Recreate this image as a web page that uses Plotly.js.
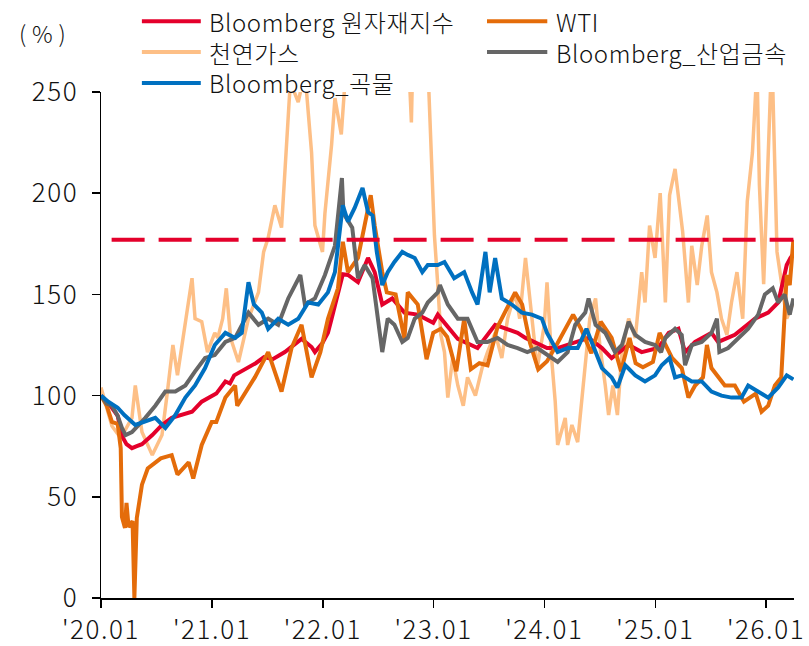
<!DOCTYPE html>
<html>
<head>
<meta charset="utf-8">
<script src="https://cdn.plot.ly/plotly-3.0.1.min.js"></script>
<style>
html,body{margin:0;padding:0;background:#fff;}
#chart{width:809px;height:646px;}
.xtick text,.ytick text{letter-spacing:1.6px;}
.annotation-text{letter-spacing:0.6px;}
</style>
</head>
<body>
<div id="chart"></div>
<script>
// ---- series names ----
const seriesNames = ['Bloomberg 원자재지수', 'WTI', '천연가스', 'Bloomberg_산업금속', 'Bloomberg_곡물'];
const unitLabel = '(\u2009%\u2009)';

// ---- x-axis ticks ----
const tickVals = ['2020-01-01','2021-01-01','2022-01-01','2023-01-01','2024-01-01','2025-01-01','2026-01-01'];
const tickLabels = ["'20.01","'21.01","'22.01","'23.01","'24.01","'25.01","'26.01"];

// ---- Bloomberg 원자재지수 ----
const cmdDates = ['2020-01-01','2020-01-20','2020-02-06','2020-02-25','2020-03-10','2020-03-25','2020-04-12','2020-04-28','2020-05-15','2020-06-18','2020-07-20','2020-08-21','2020-09-24','2020-10-27','2020-11-28','2020-12-31',
'2021-01-15','2021-02-14','2021-03-01','2021-03-15','2021-05-01','2021-05-25','2021-06-21','2021-07-20','2021-08-29','2021-09-20','2021-10-23','2021-11-25','2021-12-06','2021-12-31',
'2022-01-18','2022-01-30','2022-03-08','2022-03-25','2022-04-27','2022-05-30','2022-06-21','2022-07-16','2022-08-18','2022-09-27','2022-11-10','2022-12-31',
'2023-01-15','2023-03-22','2023-05-26','2023-07-23','2023-10-05','2023-10-31',
'2024-01-10','2024-02-14','2024-04-12','2024-05-26','2024-07-09','2024-08-10','2024-10-05','2024-11-17',
'2025-01-10','2025-02-14','2025-03-18','2025-04-09','2025-05-12','2025-07-05','2025-07-27','2025-09-20','2025-11-25',
'2026-01-08','2026-02-10','2026-03-10','2026-03-22','2026-04-01'];
const cmdVals = [100,97,94,90,80,76,74,75,76,80.5,85.5,89,90.5,92,97,100,
101,107,106,110,114,116,119,118,121.5,124,128,124,121.5,126,
131,138,160,159.6,156,168,161,145,148,141,140,136,
140,128,123.5,135,131,128.5,
123.5,123.5,126.5,128.5,123.5,118.5,125,121.5,
123.5,131,133,121.5,126.5,131,126.5,130,138,
141,146,164.5,168,170];

// ---- WTI ----
const wtiDates = ['2020-01-01','2020-01-20','2020-02-06','2020-02-25','2020-03-06','2020-03-10','2020-03-20','2020-03-25','2020-04-01','2020-04-14','2020-04-20','2020-04-24','2020-04-28','2020-05-15','2020-06-03','2020-07-16','2020-08-21','2020-09-09','2020-10-16','2020-10-31','2020-11-28','2020-12-31',
'2021-01-15','2021-02-14','2021-03-18','2021-03-25','2021-05-22','2021-07-05','2021-08-18','2021-09-20','2021-10-23','2021-11-25','2021-12-24',
'2022-01-18','2022-02-20','2022-03-08','2022-03-25','2022-04-27','2022-06-08','2022-06-21','2022-07-16','2022-07-31','2022-08-29','2022-09-27','2022-10-08','2022-11-10','2022-12-09','2022-12-31',
'2023-01-25','2023-02-15','2023-03-17','2023-04-12','2023-05-04','2023-06-01','2023-06-28','2023-07-31','2023-09-27','2023-10-20','2023-11-15','2023-12-12',
'2024-01-10','2024-02-14','2024-04-05','2024-05-01','2024-06-04','2024-07-05','2024-08-10','2024-09-10','2024-10-08','2024-10-28','2024-11-21','2024-12-24',
'2025-01-15','2025-02-25','2025-03-29','2025-04-20','2025-05-12','2025-06-07','2025-06-20','2025-07-05','2025-08-18','2025-09-20','2025-10-20','2025-11-28','2025-12-17',
'2026-01-08','2026-01-30','2026-02-20','2026-03-01','2026-03-10','2026-03-20','2026-04-01'];
const wtiVals = [100,95,87,86,74,40,34.6,47,35,38,0,30,39.5,56,64,69,70.6,61,67,59,75.6,87,
87,99,105,95,109,121.5,102,123.5,135,109,121.5,
138,153,176,161,168,199,184,161,151,150,128,151,145,118,131,
133,129,112,138,113,116,115,134,151,145,126,113,
117,126,140,133,121,136.5,128.5,112,128.5,116,114,116.6,
131,118.6,113.6,99,105,109,125,113.6,105,105,97,101,92,
95,105,109,138,159.6,154.6,177];

// ---- 천연가스 ----
const gasDates = ['2020-01-01','2020-01-15','2020-02-06','2020-03-06','2020-04-12','2020-04-23','2020-05-15','2020-06-18','2020-07-20','2020-08-07','2020-08-25','2020-09-09','2020-10-05','2020-10-27','2020-11-06','2020-11-28','2020-12-17',
'2021-01-10','2021-01-20','2021-02-05','2021-02-17','2021-03-03','2021-03-29','2021-05-01','2021-06-03','2021-06-20','2021-07-05','2021-07-27','2021-08-18','2021-09-05','2021-09-16','2021-10-12','2021-11-03','2021-11-25','2021-12-06','2021-12-31',
'2022-01-08','2022-01-30','2022-02-10','2022-03-03','2022-03-22','2022-04-15','2022-06-10','2022-08-20','2022-09-25','2022-10-20','2022-10-28','2022-12-09','2022-12-14','2022-12-28',
'2023-01-04','2023-01-15','2023-01-25','2023-02-06','2023-02-17','2023-03-05','2023-03-22','2023-04-09','2023-04-23','2023-05-19','2023-06-10','2023-06-28','2023-07-23','2023-08-14','2023-09-02','2023-09-27','2023-10-12','2023-10-31','2023-11-21','2023-12-09',
'2024-01-01','2024-01-10','2024-01-25','2024-02-06','2024-02-14','2024-03-10','2024-03-18','2024-04-01','2024-04-20','2024-05-15','2024-05-30','2024-06-18','2024-07-02','2024-07-20','2024-07-31','2024-08-14','2024-08-29','2024-09-13','2024-10-05','2024-10-27','2024-11-17','2024-11-28','2024-12-13','2024-12-31',
'2025-01-17','2025-02-03','2025-02-17','2025-03-07','2025-03-18','2025-04-01','2025-04-20','2025-05-01','2025-05-19','2025-06-03','2025-06-21','2025-07-05','2025-07-23','2025-08-07','2025-08-25','2025-09-09','2025-09-27','2025-10-16','2025-10-31','2025-11-17','2025-12-02','2025-12-10','2025-12-24',
'2026-01-20','2026-02-06','2026-02-25','2026-03-10','2026-04-01'];
const gasVals = [104,97,85,79,89,105,82,70.6,80.5,102,125,110,135,158,138,136.5,121.5,
131,128.5,138,153,128.5,116.6,138,151,171,178,194,183,224,255,245,260,220,184,171,
190,224,247,229,270,300,380,400,320,235,290,280,260,209,
179,154.6,130,121.5,99,118.6,105,95,109,100,113.6,121.5,131,118.6,138,151,138,168,138,113.6,
135,156,118.6,97,75.6,89,75.6,85.5,77,113.6,138,148,125,105,90.4,105,90.4,121.5,138,128.5,161,146,184,168,
200,146,199,212,199,181,146,174,154.6,174,189,161,151,138,130,146,161,138,196,220,262,204,155,
270,171,151,138,146];

// ---- Bloomberg_산업금속 ----
const metDates = ['2020-01-01','2020-01-20','2020-02-06','2020-02-25','2020-03-10','2020-03-22','2020-04-12','2020-05-26','2020-06-28','2020-07-31','2020-09-02','2020-10-05','2020-11-06','2020-12-09',
'2021-01-10','2021-02-14','2021-03-18','2021-05-01','2021-06-03','2021-07-05','2021-08-07','2021-09-09','2021-10-19','2021-11-03','2021-12-06',
'2022-01-08','2022-02-10','2022-03-05','2022-03-10','2022-04-08','2022-04-27','2022-05-19','2022-06-14','2022-07-02','2022-07-16','2022-08-03','2022-08-25','2022-09-20','2022-10-08','2022-10-31','2022-11-25','2022-12-13',
'2023-01-15','2023-01-22','2023-02-17','2023-03-22','2023-04-23','2023-05-26','2023-06-28','2023-07-31','2023-09-02','2023-10-05','2023-11-06','2023-12-09',
'2024-01-10','2024-02-14','2024-03-18','2024-04-12','2024-05-15','2024-05-26','2024-06-18','2024-07-20','2024-08-21','2024-09-13','2024-10-05','2024-10-27','2024-11-28','2024-12-31',
'2025-01-20','2025-02-03','2025-03-07','2025-03-29','2025-04-09','2025-05-01','2025-06-03','2025-07-05','2025-07-23','2025-07-31','2025-08-29','2025-10-01','2025-11-03','2025-12-06','2025-12-28',
'2026-01-23','2026-02-10','2026-03-03','2026-03-20','2026-04-01'];
const metVals = [100,96,95,90,84,80.5,82,89,95,102,102,105,112,118.6,
120,126.5,128.5,141,135,138,135,148,159.6,145,148,
159.6,174,207.5,190,183,158,164.5,158,138,121.5,138,135,126.5,128.5,138,141,146,
151,154.6,145,138,138,126.5,126.5,128.5,125,123.5,121.5,123.5,
120,116.6,121.5,135,141,148,135,131,121.5,125,136.5,130,126.5,125,
121.5,128.5,133,130,115,125,126.5,131,138,121.5,123.5,128.5,133,140,150,
153,146,150,140,148];

// ---- Bloomberg_곡물 ----
const grnDates = ['2020-01-01','2020-01-25','2020-02-25','2020-03-18','2020-04-23','2020-05-26','2020-06-28','2020-07-31','2020-09-02','2020-10-05','2020-11-06','2020-12-09',
'2021-01-10','2021-02-14','2021-03-18','2021-04-09','2021-05-01','2021-05-19','2021-06-14','2021-07-05','2021-08-07','2021-09-09','2021-10-12','2021-11-14','2021-12-17',
'2022-01-18','2022-02-10','2022-02-28','2022-03-08','2022-03-25','2022-04-16','2022-05-12','2022-05-30','2022-06-14','2022-06-28','2022-07-16','2022-08-03','2022-08-25','2022-09-20','2022-10-08','2022-10-31','2022-11-25','2022-12-13',
'2023-01-15','2023-02-06','2023-03-10','2023-04-12','2023-05-08','2023-05-26','2023-06-21','2023-07-05','2023-07-23','2023-08-14','2023-09-16','2023-10-19','2023-11-21','2023-12-24',
'2024-01-10','2024-02-14','2024-03-18','2024-04-20','2024-05-19','2024-06-10','2024-07-09','2024-08-10','2024-08-29','2024-09-24','2024-10-27','2024-11-28','2024-12-31',
'2025-01-22','2025-02-17','2025-03-07','2025-03-29','2025-05-01','2025-06-03','2025-07-05','2025-08-07','2025-09-09','2025-10-12','2025-11-03','2025-12-06',
'2026-01-08','2026-02-10','2026-03-10','2026-04-01'];
const grnVals = [100,97,94,90.4,85.5,87,89,84,90.4,99,105,113.6,
125,131,128.5,131,156,145,141,133,138,135,138,146,145,
151,161,184,194,186,192.7,202.6,190.7,189,171,154.6,161,166,171,169.5,168,161,164.5,
164.5,166,158,161,151,145,171,151,168,148,145,141,140,138,
131,121.5,123.5,123.5,133,125,113.6,109,104,115,110,107,110,
115,118.6,109,110,107,107,102,100,99,99,105,102,
99,104,110,108];

const refStart = '2020-02-05';

const colors = ['#E4002B', '#E46C0A', '#FDBF86', '#666666', '#0070C0'];
const FONT = "'Noto Sans CJK KR', 'Noto Sans', sans-serif";

function line(x, y, color, w, name) {
  return {x: x, y: y, name: name, type: 'scatter', mode: 'lines', line: {color: color, width: w}, hoverinfo: 'skip', showlegend: false};
}

const wtiLast = wtiVals[wtiVals.length - 1];
const lastDate = wtiDates[wtiDates.length - 1];

const traces = [
  line(gasDates, gasVals, colors[2], 3.5, seriesNames[2]),
  line(cmdDates, cmdVals, colors[0], 4, seriesNames[0]),
  line(wtiDates, wtiVals, colors[1], 4, seriesNames[1]),
  line(metDates, metVals, colors[3], 4, seriesNames[3]),
  line(grnDates, grnVals, colors[4], 4, seriesNames[4]),
  {x: [refStart, lastDate], y: [wtiLast, wtiLast], type: 'scatter', mode: 'lines',
   line: {color: colors[0], width: 4, dash: '33px,14px'}, hoverinfo: 'skip', showlegend: false}
];

// manual legend (two columns)
const legendItems = [
  {name: seriesNames[0], color: colors[0], col: 0, row: 0},
  {name: seriesNames[1], color: colors[1], col: 1, row: 0},
  {name: seriesNames[2], color: colors[2], col: 0, row: 1},
  {name: seriesNames[3], color: colors[3], col: 1, row: 1},
  {name: seriesNames[4], color: colors[4], col: 0, row: 2}
];
const colX = [[0.059, 0.144, 0.153], [0.557, 0.644, 0.654]];
const rowY = [1.140, 1.079, 1.018];
const shapes = [];
const annotations = [];
legendItems.forEach(it => {
  const c = colX[it.col], y = rowY[it.row];
  shapes.push({type: 'line', xref: 'paper', yref: 'paper', x0: c[0], x1: c[1], y0: y, y1: y,
               line: {color: it.color, width: 4}});
  annotations.push({xref: 'paper', yref: 'paper', x: c[2], y: y, xanchor: 'left', yanchor: 'middle',
                    text: it.name, showarrow: false, font: {family: FONT, size: 24, color: '#111', weight: 300}});
});
annotations.push({xref: 'paper', yref: 'paper', x: -0.085, y: 1.117, xanchor: 'center', yanchor: 'middle',
                  text: unitLabel, showarrow: false, font: {family: FONT, size: 23, color: '#111', weight: 300}});

const layout = {
  width: 809, height: 646,
  margin: {l: 101, r: 15, t: 92, b: 48, pad: 0},
  paper_bgcolor: '#fff', plot_bgcolor: '#fff',
  showlegend: false,
  font: {family: FONT, color: '#111'},
  xaxis: {
    type: 'date', range: ['2020-01-01', '2026-04-03'],
    tickmode: 'array', tickvals: tickVals, ticktext: tickLabels,
    ticks: 'outside', ticklen: 8, tickwidth: 1.5, tickcolor: '#000',
    showline: true, linecolor: '#000', linewidth: 1.5,
    showgrid: false, zeroline: false,
    tickfont: {family: FONT, size: 26, color: '#111', weight: 300}
  },
  yaxis: {
    range: [0, 250], tickmode: 'array', tickvals: [0, 50, 100, 150, 200, 250],
    ticks: 'outside', ticklen: 8, tickwidth: 1.5, tickcolor: '#000',
    showline: true, linecolor: '#000', linewidth: 1.5,
    showgrid: false, zeroline: false, ticklabelstandoff: 8,
    tickfont: {family: FONT, size: 26, color: '#111', weight: 300}
  },
  shapes: shapes,
  annotations: annotations
};

Plotly.newPlot('chart', traces, layout, {displayModeBar: false, staticPlot: true});
</script>
</body>
</html>
